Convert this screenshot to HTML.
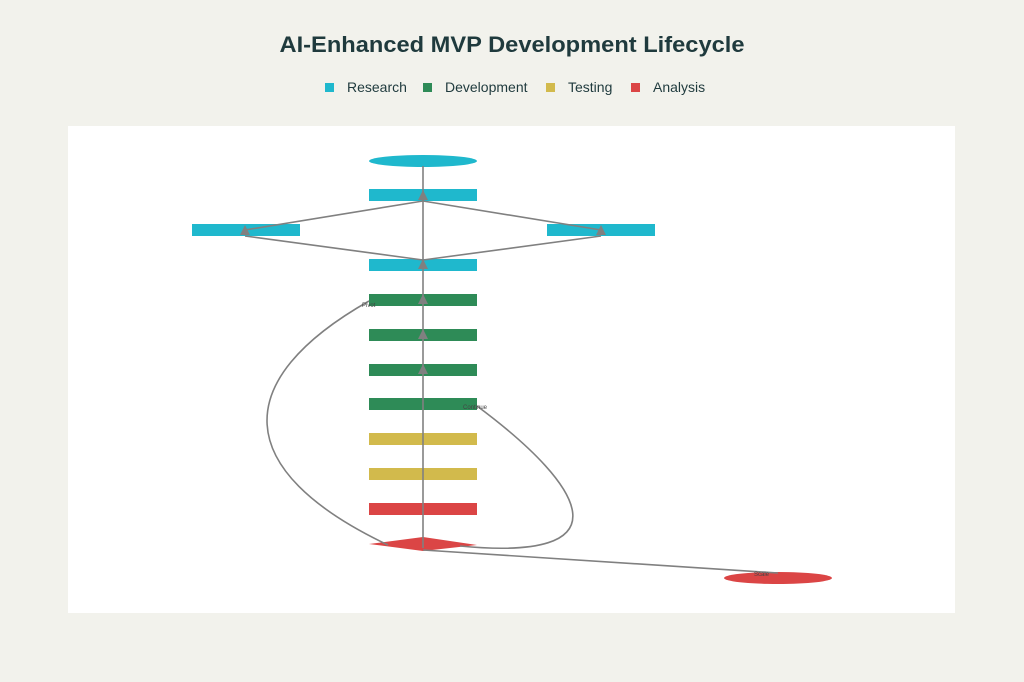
<!DOCTYPE html>
<html><head><meta charset="utf-8"><style>
html,body{margin:0;padding:0;background:#f2f2ec;}
svg{display:block}
</style></head><body>
<svg width="1024" height="682" viewBox="0 0 1024 682" xmlns="http://www.w3.org/2000/svg" font-family="Liberation Sans, sans-serif">
<rect width="1024" height="682" fill="#f2f2ec"/>
<text x="512" y="52" text-anchor="middle" font-size="22" font-weight="bold" fill="#1f3a3d" textLength="465" lengthAdjust="spacingAndGlyphs">AI-Enhanced MVP Development Lifecycle</text>
<g font-size="14" fill="#1f3a3d">
<rect x="325" y="83" width="9" height="9" fill="#1fb8cd"/><text x="347" y="92">Research</text>
<rect x="423" y="83" width="9" height="9" fill="#2e8b57"/><text x="445" y="92">Development</text>
<rect x="546" y="83" width="9" height="9" fill="#d2ba4c"/><text x="568" y="92">Testing</text>
<rect x="631" y="83" width="9" height="9" fill="#db4545"/><text x="653" y="92">Analysis</text>
</g>
<rect x="68" y="126" width="887" height="487" fill="#fff"/>
<ellipse cx="423" cy="161" rx="54" ry="6" fill="#1fb8cd"/>
<g>
<rect x="369" y="189" width="108" height="12" fill="#1fb8cd"/>
<rect x="192" y="224" width="108" height="12" fill="#1fb8cd"/>
<rect x="547" y="224" width="108" height="12" fill="#1fb8cd"/>
<rect x="369" y="259" width="108" height="12" fill="#1fb8cd"/>
<rect x="369" y="294" width="108" height="12" fill="#2e8b57"/>
<rect x="369" y="329" width="108" height="12" fill="#2e8b57"/>
<rect x="369" y="364" width="108" height="12" fill="#2e8b57"/>
<rect x="369" y="398" width="108" height="12" fill="#2e8b57"/>
<rect x="369" y="433" width="108" height="12" fill="#d2ba4c"/>
<rect x="369" y="468" width="108" height="12" fill="#d2ba4c"/>
<rect x="369" y="503" width="108" height="12" fill="#db4545"/>
</g>
<polygon points="369,544 423,537 477,545 423,551" fill="#db4545"/>
<ellipse cx="778" cy="578" rx="54" ry="6" fill="#db4545"/>
<g stroke="#808080" stroke-width="1.6" fill="none">
<line x1="423" y1="166" x2="423" y2="548"/>
<polyline points="245,230 423,201 601,230"/>
<polyline points="245,236 423,260 601,236"/>
<path d="M388,545 C230,470 230,380 369,301"/>
<path d="M477,406 C590,490 625,562 460,546"/>
<line x1="423" y1="550" x2="778" y2="573"/>
</g>
<g fill="#808080">
<polygon points="423,190 418,200 428,200"/>
<polygon points="245,225 240,235 250,235"/>
<polygon points="601,225 596,235 606,235"/>
<polygon points="423,259 418,269 428,269"/>
<polygon points="423,294 418,304 428,304"/>
<polygon points="423,329 418,339 428,339"/>
<polygon points="423,364 418,374 428,374"/>
</g>
<g font-size="6" fill="#444">
<text x="362" y="307">Pivot</text>
<text x="463" y="409">Continue</text>
<text x="754" y="576">Scale</text>
</g>
</svg>
</body></html>
